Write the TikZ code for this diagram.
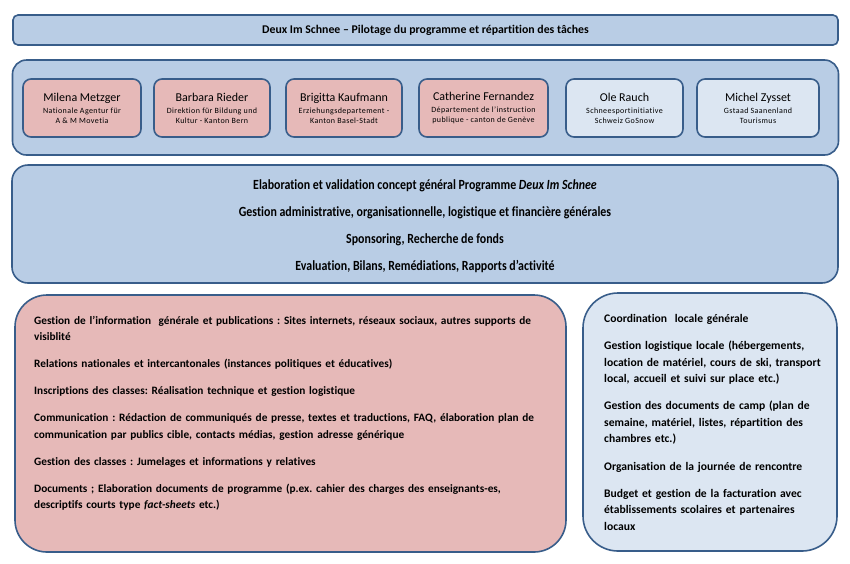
\documentclass[tikz,border=0pt]{standalone}
\usepackage{fontspec}
\setmainfont{Carlito}[Ligatures={TeX,NoCommon}]
\newfontfamily\condfont[FakeStretch=0.85,Ligatures={TeX,NoCommon}]{Carlito}
\newfontfamily\smallfont[LetterSpace=5,Ligatures={TeX,NoCommon}]{Carlito}
\definecolor{boxblue}{HTML}{B9CDE5}
\definecolor{boxline}{HTML}{385D8A}
\definecolor{boxpink}{HTML}{E6B9B8}
\definecolor{boxlight}{HTML}{DCE6F2}
\frenchspacing
\tikzset{
  panel/.style={draw=boxline, line width=1.6pt, fill=boxblue, inner sep=0pt},
  person/.style={draw=boxline, line width=1.6pt, rounded corners=8pt, minimum height=58pt, inner sep=1pt, align=center, font=\fontsize{12}{13}\selectfont},
  pinkperson/.style={person, fill=boxpink},
  lightperson/.style={person, fill=boxlight},
  bodytext/.style={align=left, inner sep=0pt, font=\bfseries\fontsize{11.3}{16.5}\selectfont}
}
\newcommand{\subline}[1]{{\smallfont\fontsize{8}{9.5}\selectfont #1}}
\begin{document}
\begin{tikzpicture}[x=1pt,y=-1pt]
\useasboundingbox[fill=white] (0,0) rectangle (850,563);
% top bar
\node[panel, rounded corners=5pt, minimum width=825pt, minimum height=30pt,
      font=\bfseries\fontsize{11.8}{13}\selectfont] (title) at (425.5,30)
      {Deux Im Schnee – Pilotage du programme et répartition des tâches};
% persons panel
\node[panel, rounded corners=14pt, minimum width=826pt, minimum height=95pt] (team) at (425.5,107.5) {};
\node[pinkperson, minimum width=118pt] (milena) at (82,108)
  {Milena Metzger\\[-1pt]\subline{Nationale Agentur für}\\[-3pt]\subline{A \& M Movetia}};
\node[pinkperson, minimum width=116pt] (barbara) at (212,108)
  {Barbara Rieder\\[-1pt]\subline{Direktion für Bildung und}\\[-3pt]\subline{Kultur - Kanton Bern}};
\node[pinkperson, minimum width=116pt] (brigitta) at (344,108)
  {Brigitta Kaufmann\\[-1pt]\subline{Erziehungsdepartement -}\\[-3pt]\subline{Kanton Basel-Stadt}};
\node[pinkperson, minimum width=129pt] (catherine) at (483.5,108)
  {Catherine Fernandez\\[-1pt]\subline{Département de l'instruction}\\[-3pt]\subline{publique - canton de Genève}};
\node[lightperson, minimum width=117pt] (ole) at (624.5,108)
  {Ole Rauch\\[-1pt]\subline{Schneesportinitiative}\\[-3pt]\subline{Schweiz GoSnow}};
\node[lightperson, minimum width=122pt] (michel) at (758,108)
  {Michel Zysset\\[-1pt]\subline{Gstaad Saanenland}\\[-3pt]\subline{Tourismus}};
% general tasks panel
\node[panel, rounded corners=16pt, minimum width=826pt, minimum height=118pt] (general) at (425,224) {};
\node[align=center, inner sep=0pt, font=\condfont\bfseries\fontsize{14}{27}\selectfont] (gentext) at (425,226)
  {Elaboration et validation concept général Programme \textit{Deux Im Schnee}\\
   Gestion administrative, organisationnelle, logistique et financière générales\\
   Sponsoring, Recherche de fonds\\
   Evaluation, Bilans, Remédiations, Rapports d'activité};
% pink panel
\node[panel, fill=boxpink, rounded corners=32pt, minimum width=551pt, minimum height=257pt] (central) at (290.5,423.5) {};
\node[bodytext, anchor=north west, text width=525pt] (centraltext) at (34,316)
  {Gestion de l'information\ \ générale et publications : Sites internets, réseaux sociaux, autres supports de\\
   visiblité\\[10.5pt]
   Relations nationales et intercantonales (instances politiques et éducatives)\\[10.5pt]
   Inscriptions des classes: Réalisation technique et gestion logistique\\[10.5pt]
   Communication : Rédaction de communiqués de presse, textes et traductions, FAQ, élaboration plan de\\
   communication par publics cible, contacts médias, gestion adresse générique\\[10.5pt]
   Gestion des classes : Jumelages et informations y relatives\\[10.5pt]
   Documents ; Elaboration\ documents de programme (p.ex. cahier des charges des enseignants-es,\\
   descriptifs courts\ type \textit{fact-sheets} etc.)};
% local panel
\node[panel, fill=boxlight, rounded corners=35pt, minimum width=254pt, minimum height=258pt] (local) at (710,422) {};
\node[bodytext, anchor=north west, text width=230pt, font=\bfseries\fontsize{11.6}{16.6}\selectfont] (localtext) at (604,314)
  {Coordination\ \ locale générale\\[10.5pt]
   Gestion logistique locale (hébergements,\\
   location de matériel, cours de ski, transport\\
   local, accueil et suivi sur place etc.)\\[10.5pt]
   Gestion des documents de camp (plan de\\
   semaine, matériel, listes, répartition des\\
   chambres etc.)\\[10.5pt]
   Organisation de la journée de rencontre\\[10.5pt]
   Budget et gestion de la facturation avec\\
   établissements scolaires et partenaires\\
   locaux};
\end{tikzpicture}
\end{document}
